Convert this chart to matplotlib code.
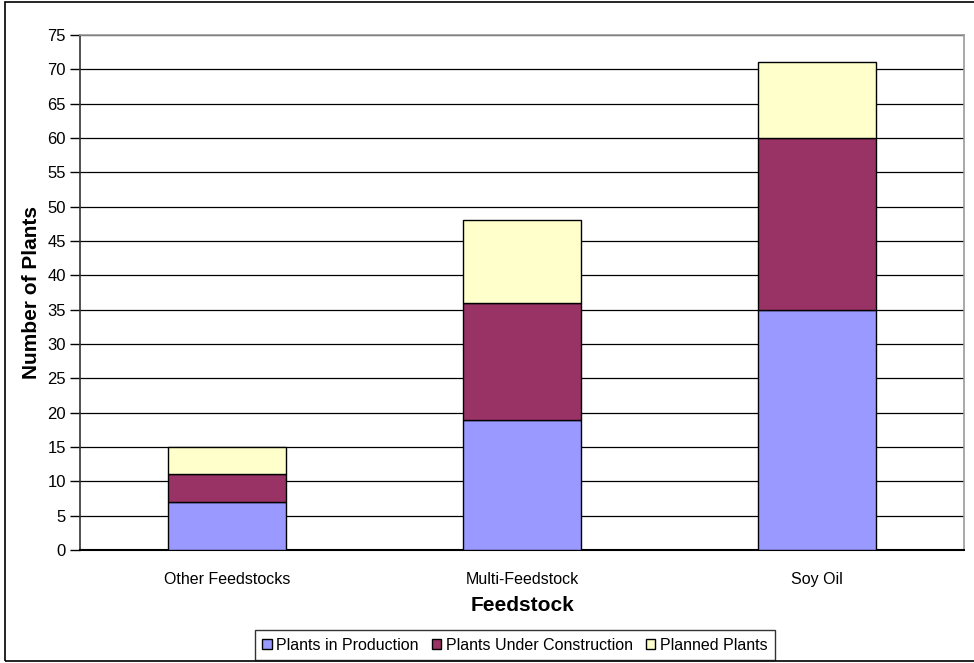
import numpy as np
import matplotlib.pyplot as plt
from matplotlib.patches import Rectangle

categories = ['Other Feedstocks', 'Multi-Feedstock', 'Soy Oil']
production = [7, 19, 35]
construction = [4, 17, 25]
planned = [4, 12, 11]
series_names = ['Plants in Production', 'Plants Under Construction', 'Planned Plants']

plt.rcParams['font.family'] = ['Liberation Sans', 'DejaVu Sans']

fig = plt.figure(figsize=(9.74, 6.63), dpi=100)
ax = fig.add_axes([80 / 974, 1 - 550 / 663, 884 / 974, 515 / 663])

# outer chart border (right side cut off in the original)
fig.patches.append(Rectangle((5 / 974, 2 / 663), 1.0, 659 / 663, transform=fig.transFigure,
                             fill=False, edgecolor='black', linewidth=1.2))

index = np.arange(len(categories)) + 0.5
bar_width = 0.4
colors = ['#9999ff', '#993366', '#ffffcc']

bottom = np.zeros(len(categories))
for vals, col, name in zip([production, construction, planned], colors, series_names):
    ax.bar(index, vals, bar_width, bottom=bottom, color=col, edgecolor='black',
           linewidth=1.0, label=name, zorder=3)
    bottom += np.array(vals)

ax.set_xlim(0, 3)
ax.set_ylim(0, 75)
ax.set_yticks(np.arange(0, 76, 5))
ax.yaxis.grid(True, color='black', linewidth=0.9, zorder=0)
ax.set_axisbelow(True)

ax.set_xticks(index)
ax.set_xticklabels(categories, fontsize=11.5)
ax.tick_params(axis='x', length=0, pad=16)
ax.tick_params(axis='y', labelsize=12, length=7, direction='out', width=1, pad=3)

for side in ['top', 'right']:
    ax.spines[side].set_color('#999999')
    ax.spines[side].set_linewidth(1.2)
ax.spines['left'].set_color('#333333')
ax.spines['bottom'].set_color('#000000')
ax.spines['left'].set_linewidth(1.2)
ax.spines['bottom'].set_linewidth(1.5)

ax.set_xlabel('Feedstock', fontsize=15, fontweight='bold', labelpad=6)
ax.set_ylabel('Number of Plants', fontsize=15, fontweight='bold', labelpad=5)

leg = fig.legend(loc='center', bbox_to_anchor=(515 / 974, 1 - 645 / 663), ncol=3,
                 fontsize=11.5, frameon=True, fancybox=False, edgecolor='black',
                 handlelength=0.6, handleheight=0.6, handletextpad=0.3,
                 columnspacing=0.8, borderpad=0.45, borderaxespad=0)
leg.get_frame().set_linewidth(1.0)

fig.savefig('out.png', dpi=100)
